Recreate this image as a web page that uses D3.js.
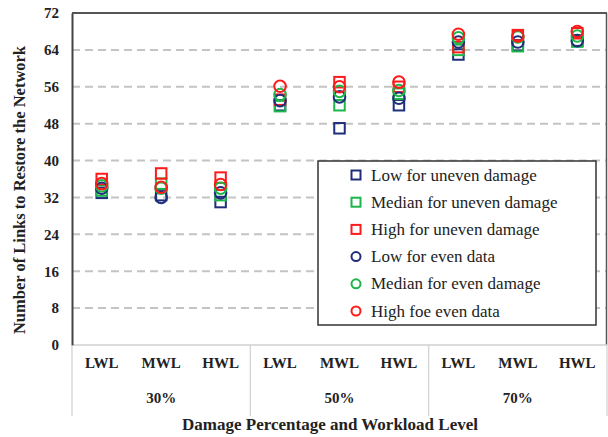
<!DOCTYPE html>
<html><head><meta charset="utf-8">
<script src="https://cdn.jsdelivr.net/npm/d3@7"></script>
<style>body{margin:0;background:#fff}svg{display:block}</style>
</head><body><svg id="c" width="608" height="437"></svg>
<script>
const groups = ["30%","50%","70%"];
const levels = ["LWL","MWL","HWL"];
const yTicks = [0,8,16,24,32,40,48,56,64,72];
const lowUneven    = [33,32.5,31, 52,47,52, 63,65,66];
const medianUneven = [33.5,35,32.5, 51.8,52,54.5, 64,64.8,65.8];
const highUneven   = [36,37.2,36.3, 53.2,57,56, 64.6,67.2,67.6];
const lowEven      = [34,32,33, 53,53.8,53.5, 65.7,65.7,66];
const medianEven   = [34.5,34,34, 54.3,55,55.2, 66.6,66.8,67];
const highEven     = [35,34.2,34.8, 56.1,56,57, 67.4,67,68];
const seriesNames = ["Low for uneven damage","Median for uneven damage","High for uneven damage","Low for even data","Median for even damage","High foe even data"];
const seriesVals = [lowUneven, medianUneven, highUneven, lowEven, medianEven, highEven];
const seriesShape = ["square","square","square","circle","circle","circle"];
const seriesColor = ["#1f2e7a","#1db64a","#ff1a1a","#1f2e7a","#1db64a","#ff1a1a"];

const svg = d3.select("#c");
const m = {l:72, r:1, t:13, b:92};
const W = 608, H = 437;
const cats = [];
groups.forEach(g => levels.forEach(l => cats.push(g + "|" + l)));
const x = d3.scaleBand().domain(cats).range([m.l, W - m.r]);
const y = d3.scaleLinear().domain([0,72]).range([H - m.b, m.t]);
const serif = "'Liberation Serif','Times New Roman',serif";

// gridlines
svg.append("g").selectAll("line").data(yTicks.filter(d => d>0 && d<72)).join("line")
  .attr("x1", m.l).attr("x2", W - m.r).attr("y1", d => y(d)).attr("y2", d => y(d))
  .attr("stroke", "#c4c4c4").attr("stroke-width", 2).attr("stroke-dasharray", "8,5");

// frame
svg.append("line").attr("x1", m.l).attr("x2", W - m.r).attr("y1", y(72)).attr("y2", y(72)).attr("stroke","#555").attr("stroke-width",2);
svg.append("line").attr("x1", W - m.r - 0.5).attr("x2", W - m.r - 0.5).attr("y1", y(72)).attr("y2", y(0)).attr("stroke","#555").attr("stroke-width",1.5);
svg.append("line").attr("x1", m.l).attr("x2", W - m.r).attr("y1", y(0)).attr("y2", y(0)).attr("stroke","#d0d0d0").attr("stroke-width",1.5);

// y axis
const ya = svg.append("g").attr("transform", `translate(${m.l},0)`)
  .call(d3.axisLeft(y).tickValues(yTicks).tickSize(0).tickPadding(13));
ya.select(".domain").attr("stroke","#444").attr("stroke-width",2);
ya.selectAll("text").attr("font-family", serif).attr("font-weight","bold").attr("font-size",15).attr("fill","#222");

// x axis level labels
const xa = svg.append("g").attr("transform", `translate(0,${y(0)})`)
  .call(d3.axisBottom(x).tickSize(0).tickPadding(12).tickFormat(d => d.split("|")[1]));
xa.select(".domain").remove();
xa.selectAll("text").attr("font-family", serif).attr("font-weight","bold").attr("font-size",15).attr("fill","#222");

// group labels and separators
groups.forEach((g,i) => {
  const x0 = x(g + "|" + levels[0]);
  const x1 = x(g + "|" + levels[2]) + x.bandwidth();
  svg.append("text").attr("x", (x0 + x1)/2).attr("y", 403).attr("text-anchor","middle")
    .attr("font-family", serif).attr("font-weight","bold").attr("font-size",15).attr("fill","#222").text(g);
});
const seps = [x(groups[0]+"|LWL"), x(groups[1]+"|LWL"), x(groups[2]+"|LWL"), W - m.r];
svg.append("g").selectAll("line").data(seps).join("line")
  .attr("x1", d => d).attr("x2", d => d).attr("y1", y(0)).attr("y2", 416)
  .attr("stroke","#d0d0d0").attr("stroke-width",1.2);

// titles
svg.append("text").attr("x", 330).attr("y", 430).attr("text-anchor","middle")
  .attr("font-family", serif).attr("font-weight","bold").attr("font-size",17).attr("fill","#222")
  .text("Damage Percentage and Workload  Level");
svg.append("text").attr("transform", `translate(25,190) rotate(-90)`).attr("text-anchor","middle")
  .attr("font-family", serif).attr("font-weight","bold").attr("font-size",16.5).attr("fill","#222")
  .text("Number of Links  to Restore  the Network");

// markers
const sq = 10.5, r = 5.8;
seriesVals.forEach((vals, si) => {
  const g = svg.append("g");
  const data = vals.map((v,i) => ({c: cats[i], v}));
  if (seriesShape[si] === "square") {
    g.selectAll("rect").data(data).join("rect")
      .attr("x", d => x(d.c) + x.bandwidth()/2 - sq/2).attr("y", d => y(d.v) - sq/2)
      .attr("width", sq).attr("height", sq).attr("fill","none")
      .attr("stroke", seriesColor[si]).attr("stroke-width", 2);
  } else {
    g.selectAll("circle").data(data).join("circle")
      .attr("cx", d => x(d.c) + x.bandwidth()/2).attr("cy", d => y(d.v)).attr("r", r)
      .attr("fill","none").attr("stroke", seriesColor[si]).attr("stroke-width", 2);
  }
});

// legend
const lg = svg.append("g");
lg.append("rect").attr("x", 318).attr("y", 161).attr("width", 278).attr("height", 164)
  .attr("fill","#fff").attr("stroke","#333").attr("stroke-width",1.5);
seriesNames.forEach((n,i) => {
  const cy = 175 + i*27.2;
  if (seriesShape[i] === "square") {
    lg.append("rect").attr("x", 356 - 4.5).attr("y", cy - 4.5).attr("width", 9).attr("height", 9)
      .attr("fill","none").attr("stroke", seriesColor[i]).attr("stroke-width", 2);
  } else {
    lg.append("circle").attr("cx", 356).attr("cy", cy).attr("r", 4.5)
      .attr("fill","none").attr("stroke", seriesColor[i]).attr("stroke-width", 2);
  }
  lg.append("text").attr("x", 371).attr("y", cy + 5.5).attr("font-family", serif).attr("font-size",17)
    .attr("fill","#222").text(n);
});
</script></body></html>
